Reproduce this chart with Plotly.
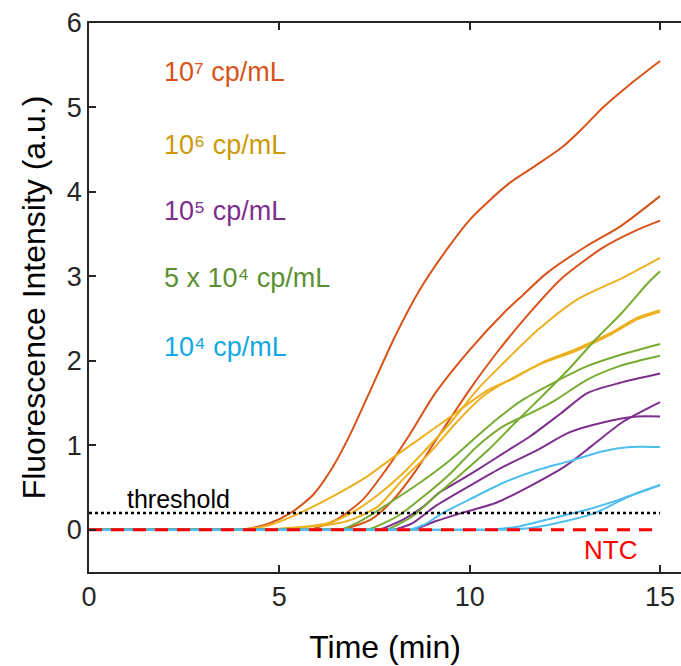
import plotly.graph_objects as go

# ---- data (time in min, fluorescence in a.u.) ----
t_e7_a = [0, 3.7, 4.0, 4.7, 5.3, 5.9, 6.4, 6.85, 7.4, 8.05, 8.7, 9.4, 10.0, 10.45, 11.06, 11.76, 12.46, 12.98, 13.5, 14.2, 15]
f_e7_a = [0, 0, 0, 0.07, 0.2, 0.42, 0.74, 1.12, 1.66, 2.3, 2.85, 3.32, 3.67, 3.87, 4.11, 4.32, 4.54, 4.76, 5.0, 5.27, 5.55]
t_e7_b = [0, 5.5, 5.8, 6.5, 7.2, 7.8, 8.4, 9.1, 10.0, 10.9, 11.4, 12.0, 13.07, 13.95, 15]
f_e7_b = [0, 0, 0, 0.12, 0.36, 0.71, 1.11, 1.62, 2.13, 2.57, 2.78, 3.03, 3.36, 3.59, 3.95]
t_e7_c = [0, 6.3, 6.6, 7.4, 8.0, 8.6, 9.3, 10.0, 10.7, 11.5, 12.4, 13.5, 14.4, 15]
f_e7_c = [0, 0, 0, 0.12, 0.36, 0.71, 1.19, 1.66, 2.09, 2.53, 2.97, 3.34, 3.55, 3.66]

t_e6_a = [0, 4.5, 4.8, 5.6, 6.3, 6.9, 7.55, 8.25, 8.85, 9.5, 10.2, 10.9, 11.8, 12.8, 14.0, 15]
f_e6_a = [0, 0, 0, 0.03, 0.08, 0.2, 0.4, 0.67, 0.95, 1.27, 1.66, 1.98, 2.37, 2.72, 2.98, 3.22]
t_e6_b = [0, 3.6, 3.9, 4.7, 5.4, 6.5, 7.3, 8.0, 8.6, 9.5, 10.5, 11.1, 11.9, 12.8, 13.7, 14.4, 15]
f_e6_b = [0, 0, 0, 0.05, 0.17, 0.42, 0.63, 0.86, 1.05, 1.34, 1.66, 1.78, 1.98, 2.14, 2.33, 2.51, 2.60]
t_e6_c = [0, 4.2, 4.5, 5.5, 6.3, 6.9, 7.6, 8.25, 8.95, 9.65, 10.35, 11.1, 11.9, 12.8, 13.7, 14.4, 15]
f_e6_c = [0, 0, 0, 0.03, 0.06, 0.12, 0.28, 0.6, 0.91, 1.27, 1.58, 1.79, 1.97, 2.12, 2.31, 2.49, 2.58]

t_e5_a = [0, 7.3, 7.6, 8.25, 8.8, 9.2, 9.65, 10.2, 10.9, 11.6, 12.4, 13.1, 13.95, 15]
f_e5_a = [0, 0, 0, 0.12, 0.28, 0.44, 0.56, 0.71, 0.91, 1.11, 1.38, 1.62, 1.74, 1.85]
t_e5_b = [0, 8.2, 8.5, 9.1, 9.8, 10.7, 11.6, 12.5, 13.2, 14.0, 15]
f_e5_b = [0, 0, 0, 0.10, 0.2, 0.32, 0.52, 0.75, 0.99, 1.27, 1.51]
t_e5_c = [0, 7.7, 8.0, 8.5, 9.1, 10.0, 10.9, 11.8, 12.6, 13.5, 14.4, 15]
f_e5_c = [0, 0, 0, 0.08, 0.28, 0.52, 0.75, 0.95, 1.15, 1.27, 1.34, 1.34]

t_5e4_a = [0, 7.5, 7.8, 8.5, 9.1, 9.8, 10.5, 11.2, 11.9, 12.6, 13.3, 14.0, 14.7, 15]
f_5e4_a = [0, 0, 0, 0.16, 0.4, 0.67, 0.95, 1.27, 1.58, 1.9, 2.25, 2.57, 2.93, 3.06]
t_5e4_b = [0, 6.3, 6.6, 7.2, 7.9, 8.7, 9.5, 10.2, 10.8, 11.4, 12.2, 13.1, 13.95, 15]
f_5e4_b = [0, 0, 0, 0.12, 0.32, 0.56, 0.83, 1.11, 1.34, 1.54, 1.74, 1.94, 2.07, 2.20]
t_5e4_c = [0, 7.0, 7.3, 8.1, 8.8, 9.5, 10.2, 10.9, 11.6, 12.2, 13.1, 13.95, 15]
f_5e4_c = [0, 0, 0, 0.16, 0.4, 0.67, 0.99, 1.23, 1.38, 1.52, 1.78, 1.94, 2.06]

t_e4_a = [0, 8.1, 8.4, 8.8, 9.3, 10.0, 10.9, 11.8, 12.6, 13.5, 14.2, 15]
f_e4_a = [0, 0, 0, 0.06, 0.2, 0.36, 0.56, 0.71, 0.81, 0.93, 0.98, 0.98]
t_e4_b = [0, 10.1, 10.4, 11.3, 12.2, 13.1, 13.95, 15]
f_e4_b = [0, 0, 0, 0.04, 0.14, 0.24, 0.36, 0.53]
t_e4_c = [0, 10.6, 10.9, 11.6, 12.5, 13.3, 14.2, 15]
f_e4_c = [0, 0, 0, 0.02, 0.10, 0.20, 0.40, 0.53]

ntc_t = [0, 15]
ntc_f = [0, 0]
threshold_t = [0, 15]
threshold_f = [0.2, 0.2]

groups = [
    ("10\u2077 cp/mL", "#D95319", "#D95319", 5.42, [(t_e7_a, f_e7_a), (t_e7_b, f_e7_b), (t_e7_c, f_e7_c)]),
    ("10\u2076 cp/mL", "#EDB120", "#CC9A06", 4.56, [(t_e6_a, f_e6_a), (t_e6_b, f_e6_b), (t_e6_c, f_e6_c)]),
    ("10\u2075 cp/mL", "#7E2F8E", "#7E2F8E", 3.77, [(t_e5_a, f_e5_a), (t_e5_b, f_e5_b), (t_e5_c, f_e5_c)]),
    ("5 x 10\u2074 cp/mL", "#77AC30", "#5A8F32", 2.98, [(t_5e4_a, f_5e4_a), (t_5e4_b, f_5e4_b), (t_5e4_c, f_5e4_c)]),
    ("10\u2074 cp/mL", "#4DBEEE", "#12A8E4", 2.16, [(t_e4_a, f_e4_a), (t_e4_b, f_e4_b), (t_e4_c, f_e4_c)]),
]

FONT = "Liberation Sans, Arial, Helvetica, sans-serif"
fig = go.Figure()

for label, lc, tc, ly, curves in groups:
    for t, f in curves:
        fig.add_trace(go.Scatter(x=t, y=f, mode="lines",
                                 line=dict(color=lc, width=2, shape="spline", smoothing=0.7),
                                 showlegend=False, hoverinfo="skip"))
    fig.add_annotation(x=1.92, y=ly, text=label, showarrow=False, xanchor="left", yanchor="middle",
                       font=dict(family=FONT, size=27, color=tc))

fig.add_trace(go.Scatter(x=threshold_t, y=threshold_f, mode="lines",
                         line=dict(color="black", width=2.5, dash="3px,3px"), showlegend=False))
fig.add_trace(go.Scatter(x=ntc_t, y=ntc_f, mode="lines",
                         line=dict(color="#FF0000", width=3, dash="13px,9px"), showlegend=False))

fig.add_annotation(x=2.36, y=0.36, text="threshold", showarrow=False, xanchor="center", yanchor="middle",
                   font=dict(family=FONT, size=25, color="black"))
fig.add_annotation(x=13.69, y=-0.245, text="NTC", showarrow=False, xanchor="center", yanchor="middle",
                   font=dict(family=FONT, size=26, color="#FF0000"))

axis_common = dict(showgrid=False, zeroline=False, showline=True, linecolor="#262626", linewidth=1.5,
                   ticks="inside", ticklen=7, tickwidth=1.5, tickcolor="#262626",
                   tickfont=dict(family=FONT, size=27, color="#262626"))

fig.update_xaxes(range=[0, 15.55], tickvals=[0, 5, 10, 15], mirror="ticks",
                 title=dict(text="Time (min)", font=dict(family=FONT, size=32, color="black"), standoff=24),
                 **axis_common)
fig.update_yaxes(range=[-0.5, 6], tickvals=[0, 1, 2, 3, 4, 5, 6], mirror=False,
                 title=dict(text="Fluorescence Intensity (a.u.)", font=dict(family=FONT, size=32, color="black"), standoff=12),
                 **axis_common)

fig.update_layout(width=681, height=666, margin=dict(l=89, r=0, t=23, b=94),
                  plot_bgcolor="white", paper_bgcolor="white", showlegend=False)

fig.write_html("out.html")
